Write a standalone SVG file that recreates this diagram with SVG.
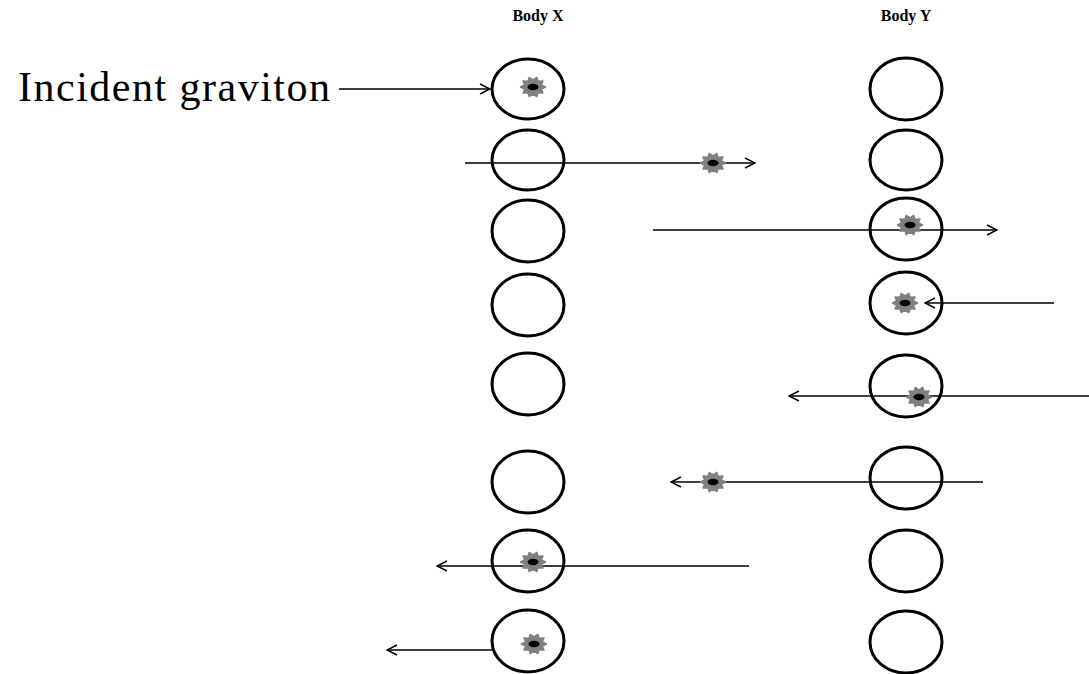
<svg xmlns="http://www.w3.org/2000/svg" xmlns:xlink="http://www.w3.org/1999/xlink" width="1089" height="674" viewBox="0 0 1089 674">
<style>
.body{fill:none;stroke:#000;stroke-width:3}
.conn line{stroke:#000;stroke-width:1.5;marker-end:url(#arr)}
.lbl{font-family:"Liberation Serif","Times New Roman",serif;font-weight:bold;font-size:16px;fill:#000;text-anchor:middle}
.big{font-family:"Liberation Serif","Times New Roman",serif;font-size:42px;fill:#000}
</style>
<defs>
<marker id="arr" viewBox="0 0 12 12" refX="11" refY="6" markerWidth="12" markerHeight="12" orient="auto" markerUnits="userSpaceOnUse">
<path d="M1,1 L11,6 L1,11" fill="none" stroke="#000" stroke-width="1.5"/>
</marker>
<g id="grav">
<polygon points="12.5,0 8.4,2.2 10,6 5,5.8 3.8,9.6 0,7.2 -3.8,9.6 -5,5.8 -10,6 -8.4,2.2 -12.5,0 -8.4,-2.2 -10,-6 -5,-5.8 -3.8,-9.6 0,-7.2 3.8,-9.6 5,-5.8 10,-6 8.4,-2.2" fill="#808080" stroke="#808080" stroke-width="1.5" stroke-linejoin="round"/>
<ellipse cx="0" cy="0" rx="5.5" ry="3.2" fill="#000"/>
</g>
</defs>
<rect width="1089" height="674" fill="#fff"/>
<text class="lbl" x="538" y="21">Body X</text>
<text class="lbl" x="906" y="21">Body Y</text>
<text class="big" x="18" y="101" textLength="312">Incident graviton</text>
<g id="bodyX">
<ellipse id="x1" class="body" cx="528" cy="89" rx="36" ry="30"/>
<ellipse id="x2" class="body" cx="528" cy="160" rx="36" ry="30"/>
<ellipse id="x3" class="body" cx="528" cy="231" rx="36" ry="31"/>
<ellipse id="x4" class="body" cx="528" cy="305" rx="36" ry="31"/>
<ellipse id="x5" class="body" cx="528" cy="384" rx="36" ry="31"/>
<ellipse id="x6" class="body" cx="528" cy="482" rx="36" ry="31"/>
<ellipse id="x7" class="body" cx="528" cy="561" rx="36" ry="31"/>
<ellipse id="x8" class="body" cx="528" cy="641" rx="36" ry="31"/>
</g>
<g id="bodyY">
<ellipse id="y1" class="body" cx="906" cy="89" rx="36" ry="31"/>
<ellipse id="y2" class="body" cx="906" cy="160" rx="36" ry="30"/>
<ellipse id="y3" class="body" cx="906" cy="229" rx="36" ry="31"/>
<ellipse id="y4" class="body" cx="906" cy="303" rx="36" ry="31"/>
<ellipse id="y5" class="body" cx="906" cy="386" rx="36" ry="31"/>
<ellipse id="y6" class="body" cx="906" cy="478" rx="36" ry="31"/>
<ellipse id="y7" class="body" cx="906" cy="561" rx="36" ry="31"/>
<ellipse id="y8" class="body" cx="906" cy="642" rx="36" ry="31"/>
</g>
<g id="connectors" class="conn">
<line x1="339" y1="89" x2="490" y2="89"/>
<line x1="465" y1="163" x2="755" y2="163"/>
<line x1="653" y1="230" x2="997" y2="230"/>
<line x1="1054" y1="303" x2="925" y2="303"/>
<line x1="1089" y1="396" x2="789" y2="396"/>
<line x1="983" y1="482" x2="671" y2="482"/>
<line x1="749" y1="566" x2="437" y2="566"/>
<line x1="493" y1="650" x2="387" y2="650"/>
</g>
<g id="gravitons">
<use xlink:href="#grav" x="533" y="87"/>
<use xlink:href="#grav" x="713" y="163"/>
<use xlink:href="#grav" x="910" y="225"/>
<use xlink:href="#grav" x="905" y="303"/>
<use xlink:href="#grav" x="919" y="397"/>
<use xlink:href="#grav" x="713" y="482"/>
<use xlink:href="#grav" x="533" y="562"/>
<use xlink:href="#grav" x="534" y="644"/>
</g>
</svg>
